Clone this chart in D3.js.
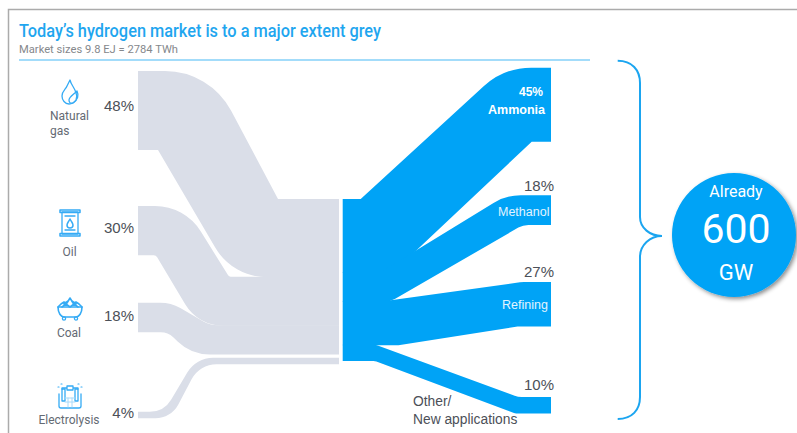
<!DOCTYPE html>
<html>
<head>
<meta charset="utf-8">
<style>
html,body{margin:0;padding:0;background:#fff;overflow:hidden}
svg{display:block}
</style>
<script src="https://cdn.jsdelivr.net/npm/d3@7/dist/d3.min.js"></script>
</head>
<body>
<svg id="chart" width="797" height="433"></svg>
<script>
// Hydrogen supply and demand, share of the market in percent
const sourceNames = ["Natural gas", "Oil", "Coal", "Electrolysis"];
const sourceShares = [48, 30, 18, 4];
const useNames = ["Ammonia", "Methanol", "Refining", "Other/New applications"];
const useShares = [45, 18, 27, 10];
const headline = "Today\u2019s hydrogen market is to a major extent grey";
const subline = "Market sizes 9.8 EJ = 2784 TWh";
const capacityLines = ["Already", "600", "GW"];

const BLUE = "#00A3F6", GREY = "#DADEE8", LABEL = "#4C5058", CAPTION = "#646A73", ICON = "#35ABF5";

// Ribbons are thinner where they meet at the hub than at their outer ends
const outerWidth = d3.scaleLinear([0, 100], [0, 164.4]);
const hubWidth = d3.scaleLinear([0, 100], [0, 162]);

const sourceX = 138, greyHubX = 339, blueHubX = 342.7, useX = 551, hubTop = 199;
const sourceTops = [71, 206, 302.7, 411.7];
const useTops = [67.7, 195.3, 282, 397];
const electrolysisGap = 3.2;
// Neighbouring ribbons overlap slightly at the hub so no seam shows between them
const seamOverlap = 0.5;

// Bend positions and corner radii of each ribbon's upper and lower edge: [xa, ra, xb, rb]
const sourceBends = [
  {upper: [210, 75, 278, 0], lower: [158, 0, 232.6, 60]},
  {upper: [185, 54, 229, 3], lower: [156, 4, 198, 44]},
  {upper: [171, 40, 210, 30], lower: [168, 18, 191, 46]},
  {upper: [164, 25, 196, 30], lower: [171, 26, 199.6, 28]}
];
const useBends = [
  {upper: [360.7, 0, 504, 70], lower: [393, 6, 531.7, 0]},
  {upper: [381, 0, 506, 52], lower: [390.6, 20, 523, 20]},
  {upper: [385, 30, 522, 30], lower: [398, 6, 518, 6]},
  {upper: [376, 10, 518, 20], lower: [375, 8, 515, 6]}
];

// Traces one edge between two levels: flat, sloped between two corners, flat again
function addEdge(p, xStart, yStart, xEnd, yEnd, xa, ra, xb, rb, first) {
  if (first) p.moveTo(xStart, yStart); else p.lineTo(xStart, yStart);
  p.arcTo(xa, yStart, xb, yEnd, ra);
  p.arcTo(xb, yEnd, xEnd, yEnd, rb);
  p.lineTo(xEnd, yEnd);
}

// Ribbon outline from the left x0 (levels y0) to the right x1 (levels y1)
function ribbon(x0, top0, bot0, x1, top1, bot1, bends) {
  const p = d3.path();
  const [ua, ura, ub, urb] = bends.upper;
  const [la, lra, lb, lrb] = bends.lower;
  addEdge(p, x0, top0, x1, top1, ua, ura, ub, urb, true);
  addEdge(p, x1, bot1, x0, bot0, lb, lrb, la, lra, false);
  p.closePath();
  return p.toString();
}

const svg = d3.select("#chart");
const defs = svg.append("defs");
const shadow = defs.append("filter").attr("id", "badgeShadow")
  .attr("x", "-20%").attr("y", "-20%").attr("width", "150%").attr("height", "150%");
shadow.append("feDropShadow").attr("dx", 2).attr("dy", 2).attr("stdDeviation", 2)
  .attr("flood-color", "#000").attr("flood-opacity", 0.45);

// Frame
svg.append("path").attr("d", "M8.5,433V9.5H797")
  .attr("fill", "none").attr("stroke", "#ABABAB").attr("stroke-width", 1.5);

// Heading
svg.append("text").attr("x", 19).attr("y", 37).text(headline)
  .attr("font-family", "Roboto").attr("font-weight", 500).attr("font-size", 17.6).attr("fill", "#1FA6EF")
  .attr("textLength", 362).attr("lengthAdjust", "spacingAndGlyphs");
svg.append("text").attr("x", 19).attr("y", 53).text(subline)
  .attr("font-family", "Roboto").attr("font-size", 11).attr("fill", "#85888C")
  .attr("textLength", 159).attr("lengthAdjust", "spacingAndGlyphs");
svg.append("line").attr("x1", 19).attr("x2", 590).attr("y1", 60).attr("y2", 60)
  .attr("stroke", "#49BAF5").attr("stroke-width", 1.2);

// Hub levels, with a small gap above the electrolysis ribbon
const greyLevels = [0, ...d3.cumsum(sourceShares)].map(s => hubTop + hubWidth(s));
const blueLevels = [0, ...d3.cumsum(useShares)].map(s => hubTop + hubWidth(s));

svg.append("g").selectAll("path").data(sourceShares).join("path")
  .attr("fill", GREY)
  .attr("d", (s, i) => {
    const shift = i === sourceShares.length - 1 ? electrolysisGap : 0;
    const overlap = i < sourceShares.length - 2 ? seamOverlap : 0;
    return ribbon(sourceX, sourceTops[i], sourceTops[i] + outerWidth(s),
      greyHubX, greyLevels[i] + shift, greyLevels[i + 1] + shift + overlap, sourceBends[i]);
  });

svg.append("g").selectAll("path").data(useShares).join("path")
  .attr("fill", BLUE)
  .attr("d", (s, i) => {
    const overlap = i < useShares.length - 1 ? seamOverlap : 0;
    return ribbon(blueHubX, blueLevels[i], blueLevels[i + 1] + overlap,
      useX, useTops[i], useTops[i] + outerWidth(s), useBends[i]);
  });

const pct = v => v + "%";

// Percent labels beside the sources
const sourcePctBaseline = [111, 233, 321, 418];
svg.append("g").selectAll("text").data(sourceShares).join("text")
  .attr("x", 134).attr("y", (d, i) => sourcePctBaseline[i]).attr("text-anchor", "end")
  .attr("font-family", "Liberation Sans").attr("font-size", 15).attr("fill", LABEL).text(pct);

// Source captions
const captionRows = [
  {t: "Natural", x: 50, y: 120, a: "start"},
  {t: "gas", x: 50, y: 135, a: "start"},
  {t: sourceNames[1], x: 69.5, y: 256, a: "middle"},
  {t: sourceNames[2], x: 69, y: 337, a: "middle"},
  {t: sourceNames[3], x: 69, y: 424, a: "middle"}
];
svg.append("g").selectAll("text").data(captionRows).join("text")
  .attr("x", d => d.x).attr("y", d => d.y).attr("text-anchor", d => d.a)
  .attr("font-family", "Roboto").attr("font-size", 12).attr("fill", CAPTION).text(d => d.t);

// Labels of the end uses
const sansLabel = sel => sel.attr("font-family", "Liberation Sans");
sansLabel(svg.append("text")).attr("x", 531).attr("y", 96).attr("text-anchor", "middle")
  .attr("font-size", 12).attr("font-weight", 700).attr("fill", "#fff").text(pct(useShares[0]));
sansLabel(svg.append("text")).attr("x", 488).attr("y", 114)
  .attr("font-size", 12.5).attr("font-weight", 700).attr("fill", "#fff").text(useNames[0]);
sansLabel(svg.append("text")).attr("x", 498).attr("y", 216)
  .attr("font-size", 12.5).attr("fill", "#E3F4FF").text(useNames[1]);
sansLabel(svg.append("text")).attr("x", 502).attr("y", 309)
  .attr("font-size", 12.5).attr("fill", "#E3F4FF").text(useNames[2]);

const usePct = [[1, 191], [2, 277], [3, 390]];
svg.append("g").selectAll("text").data(usePct).join("text")
  .attr("x", 554).attr("y", d => d[1]).attr("text-anchor", "end")
  .attr("font-family", "Liberation Sans").attr("font-size", 15).attr("fill", LABEL)
  .text(d => pct(useShares[d[0]]));

const otherLines = useNames[3].split("/");
svg.append("g").selectAll("text").data([otherLines[0] + "/", otherLines[1]]).join("text")
  .attr("x", 413).attr("y", (d, i) => 406 + i * 18)
  .attr("font-family", "Liberation Sans").attr("font-size", 13.8).attr("fill", LABEL).text(d => d);

// Curly bracket gathering the end uses
svg.append("path")
  .attr("d", "M617.7,60.7C632,60.7 640,70 640,83V217C640,228 650,236 662,236C650,236 640,245 640,257V397C640,410 632,419 617.7,419")
  .attr("fill", "none").attr("stroke", "#1BA5F0").attr("stroke-width", 2);

// Capacity badge
svg.append("circle").attr("cx", 734).attr("cy", 235).attr("r", 62)
  .attr("fill", BLUE).attr("filter", "url(#badgeShadow)");
const badgeStyle = [{y: 197, s: 16}, {y: 243, s: 41}, {y: 280, s: 22}];
svg.append("g").selectAll("text").data(capacityLines).join("text")
  .attr("x", 736).attr("y", (d, i) => badgeStyle[i].y).attr("text-anchor", "middle")
  .attr("font-family", "Roboto").attr("font-size", (d, i) => badgeStyle[i].s).attr("fill", "#fff").text(d => d);

// Source icons, drawn as outlines around their own origin
const icons = svg.append("g").attr("fill", "none").attr("stroke", ICON)
  .attr("stroke-width", 1.3).attr("stroke-linejoin", "round").attr("stroke-linecap", "round");

const flame = icons.append("g").attr("transform", "translate(70,92)");
flame.append("path").attr("d", "M0,-12C1,-7 5,-4 6,1C7,3 7,6 6,8C4,11 1,12 -1,12C-5,12 -8,8 -8,4C-8,-1 -4,-3 -3,-6C-2,-8 -1,-10 0,-12Z");
flame.append("path").attr("d", "M7,-1C9,3 8,8 3,11C0,12 -1,10 -1,8C-1,5 3,3 7,-1Z");

const barrel = icons.append("g").attr("transform", "translate(70,223)");
barrel.append("path").attr("d", "M-8,-11H8V11H-8Z");
barrel.append("path").attr("d", "M-10,-13H10V-10.5H-10ZM-10,10.5H10V13H-10Z").attr("stroke-width", 1.5);
barrel.append("path").attr("d", "M-5,-7H5M-5,7H5");
barrel.append("path").attr("d", "M0,-4C1.5,-1 3,0 3,2A3,3 0 0 1 -3,2C-3,0 -1.5,-1 0,-4Z").attr("stroke-width", 1.5);

const cart = icons.append("g").attr("transform", "translate(70,309)");
cart.append("path").attr("d", "M-12,-2H12C12,4 9,8 6,8H-6C-9,8 -12,4 -12,-2Z").attr("stroke-width", 1.6);
cart.append("path").attr("d", "M-12,-2L-9,-5L-6,-7L-3,-6L0,-11L3,-6L6,-7L9,-5L12,-2M-8,-2L-4,-5L0,-2L4,-5L8,-2M-6,-5L-2,-8M6,-5L2,-8").attr("stroke-width", 1.6);
cart.append("circle").attr("cx", -6).attr("cy", 9.5).attr("r", 1.6);
cart.append("circle").attr("cx", 6).attr("cy", 9.5).attr("r", 1.6);

const cell = icons.append("g").attr("transform", "translate(70,396)");
cell.append("path").attr("d", "M-11,-2V10C-11,11 -10,12 -9,12H9C10,12 11,11 11,10V-2");
cell.append("path").attr("d", "M-8,-7V5H-5V-7ZM5,-7V5H8V-7Z");
cell.append("path").attr("d", "M-3,-10H3V-6H-3ZM-8,-7V-8H-3M8,-7V-8H3");
cell.append("path").attr("d", "M-5,2H5M-5,6H5M-2,2V11M2,2V11").attr("stroke", "#A8DAFA").attr("stroke-width", 1);
cell.append("path").attr("d", "M-12,-9H-11M12,-9H11M-9,-12H-8M9,-12H8").attr("stroke-width", 1.2);
</script>
</body>
</html>
